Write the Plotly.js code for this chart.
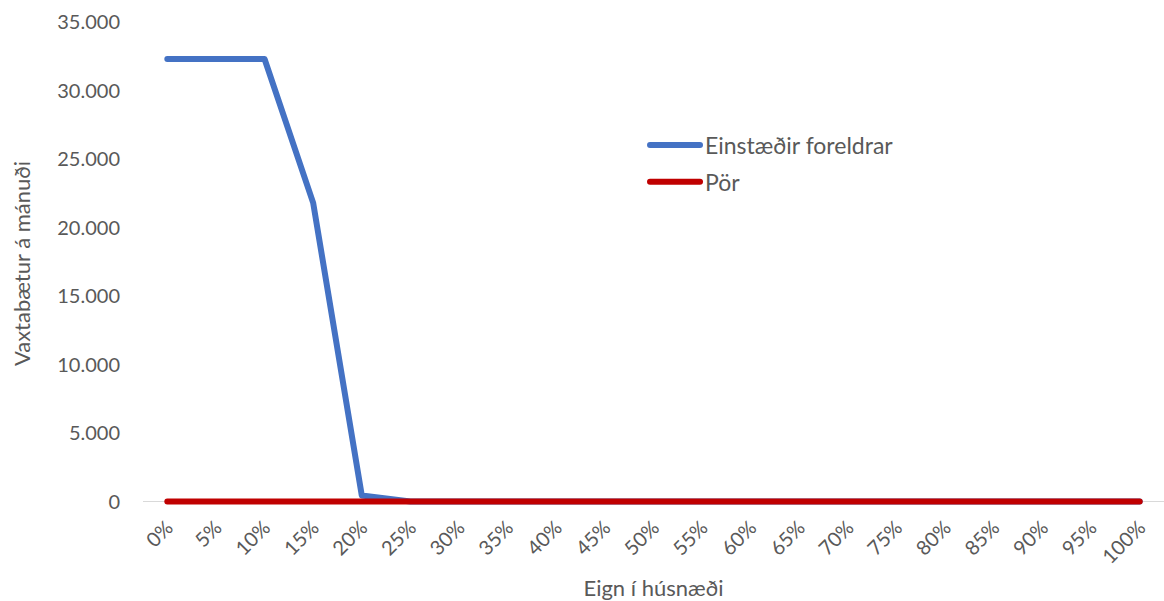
<!DOCTYPE html>
<html>
<head>
<meta charset="utf-8">
<script src="https://cdn.plot.ly/plotly-3.0.1.min.js"></script>
<style>
  html, body { margin: 0; padding: 0; background: #fff; }
  #chart { width: 1164px; height: 601px; }
  /* rounded ends on the series lines */
  #chart .scatterlayer .js-line,
  #chart .legend .js-line { stroke-linecap: round; stroke-linejoin: round; }
</style>
</head>
<body>
<div id="chart"></div>
<script>
// Eignarhlutfall í húsnæði (flokkar á x-ás)
const categories = ["0%", "5%", "10%", "15%", "20%", "25%", "30%", "35%", "40%", "45%", "50%",
                    "55%", "60%", "65%", "70%", "75%", "80%", "85%", "90%", "95%", "100%"];

// Vaxtabætur á mánuði
const einstaedirForeldrar = [32300, 32300, 32300, 21800, 450, 0, 0, 0, 0, 0, 0,
                             0, 0, 0, 0, 0, 0, 0, 0, 0, 0];
const porValues = [0, 0, 0, 0, 0, 0, 0, 0, 0, 0, 0,
                   0, 0, 0, 0, 0, 0, 0, 0, 0, 0];

const yTicks = [0, 5000, 10000, 15000, 20000, 25000, 30000, 35000];

const fontFamily = "Lato, 'Open Sans', 'Liberation Sans', sans-serif";
const textColor = "#595959";

const traces = [
  {
    x: categories,
    y: einstaedirForeldrar,
    name: "Einstæðir foreldrar",
    legendgroup: "a",
    type: "scatter",
    mode: "lines",
    line: { color: "#4472C4", width: 6 }
  },
  {
    x: categories,
    y: porValues,
    name: "Pör",
    legendgroup: "b",
    type: "scatter",
    mode: "lines",
    line: { color: "#C00000", width: 6 }
  }
];

const layout = {
  width: 1164,
  height: 601,
  margin: { l: 143, r: 0, t: 22, b: 96 },
  paper_bgcolor: "#ffffff",
  plot_bgcolor: "#ffffff",
  separators: ",.",
  font: { family: fontFamily, color: textColor, size: 20 },
  showlegend: true,
  legend: {
    x: 0.4917, y: 0.79, xanchor: "left", yanchor: "top",
    font: { family: fontFamily, color: textColor, size: 23 },
    bgcolor: "rgba(0,0,0,0)",
    tracegroupgap: 4,
    itemwidth: 50
  },
  xaxis: {
    type: "category",
    tickangle: -45,
    showgrid: false,
    zeroline: false,
    showline: false,
    ticks: "",
    ticklabelstandoff: 6,
    tickfont: { family: fontFamily, color: textColor, size: 20 },
    title: { text: "Eign í húsnæði", font: { family: fontFamily, color: textColor, size: 22 }, standoff: 14 },
    range: [-0.5, 20.5]
  },
  yaxis: {
    range: [-250, 35000],
    tickvals: yTicks,
    tickformat: ",d",
    showgrid: false,
    zeroline: true,
    zerolinecolor: "#d9d9d9",
    zerolinewidth: 1.5,
    showline: false,
    ticks: "",
    ticklabelstandoff: 22,
    tickfont: { family: fontFamily, color: textColor, size: 20 },
    title: { text: "Vaxtabætur á mánuði", font: { family: fontFamily, color: textColor, size: 22 }, standoff: 20 }
  }
};

Plotly.newPlot("chart", traces, layout, { displayModeBar: false, staticPlot: true });
</script>
</body>
</html>
